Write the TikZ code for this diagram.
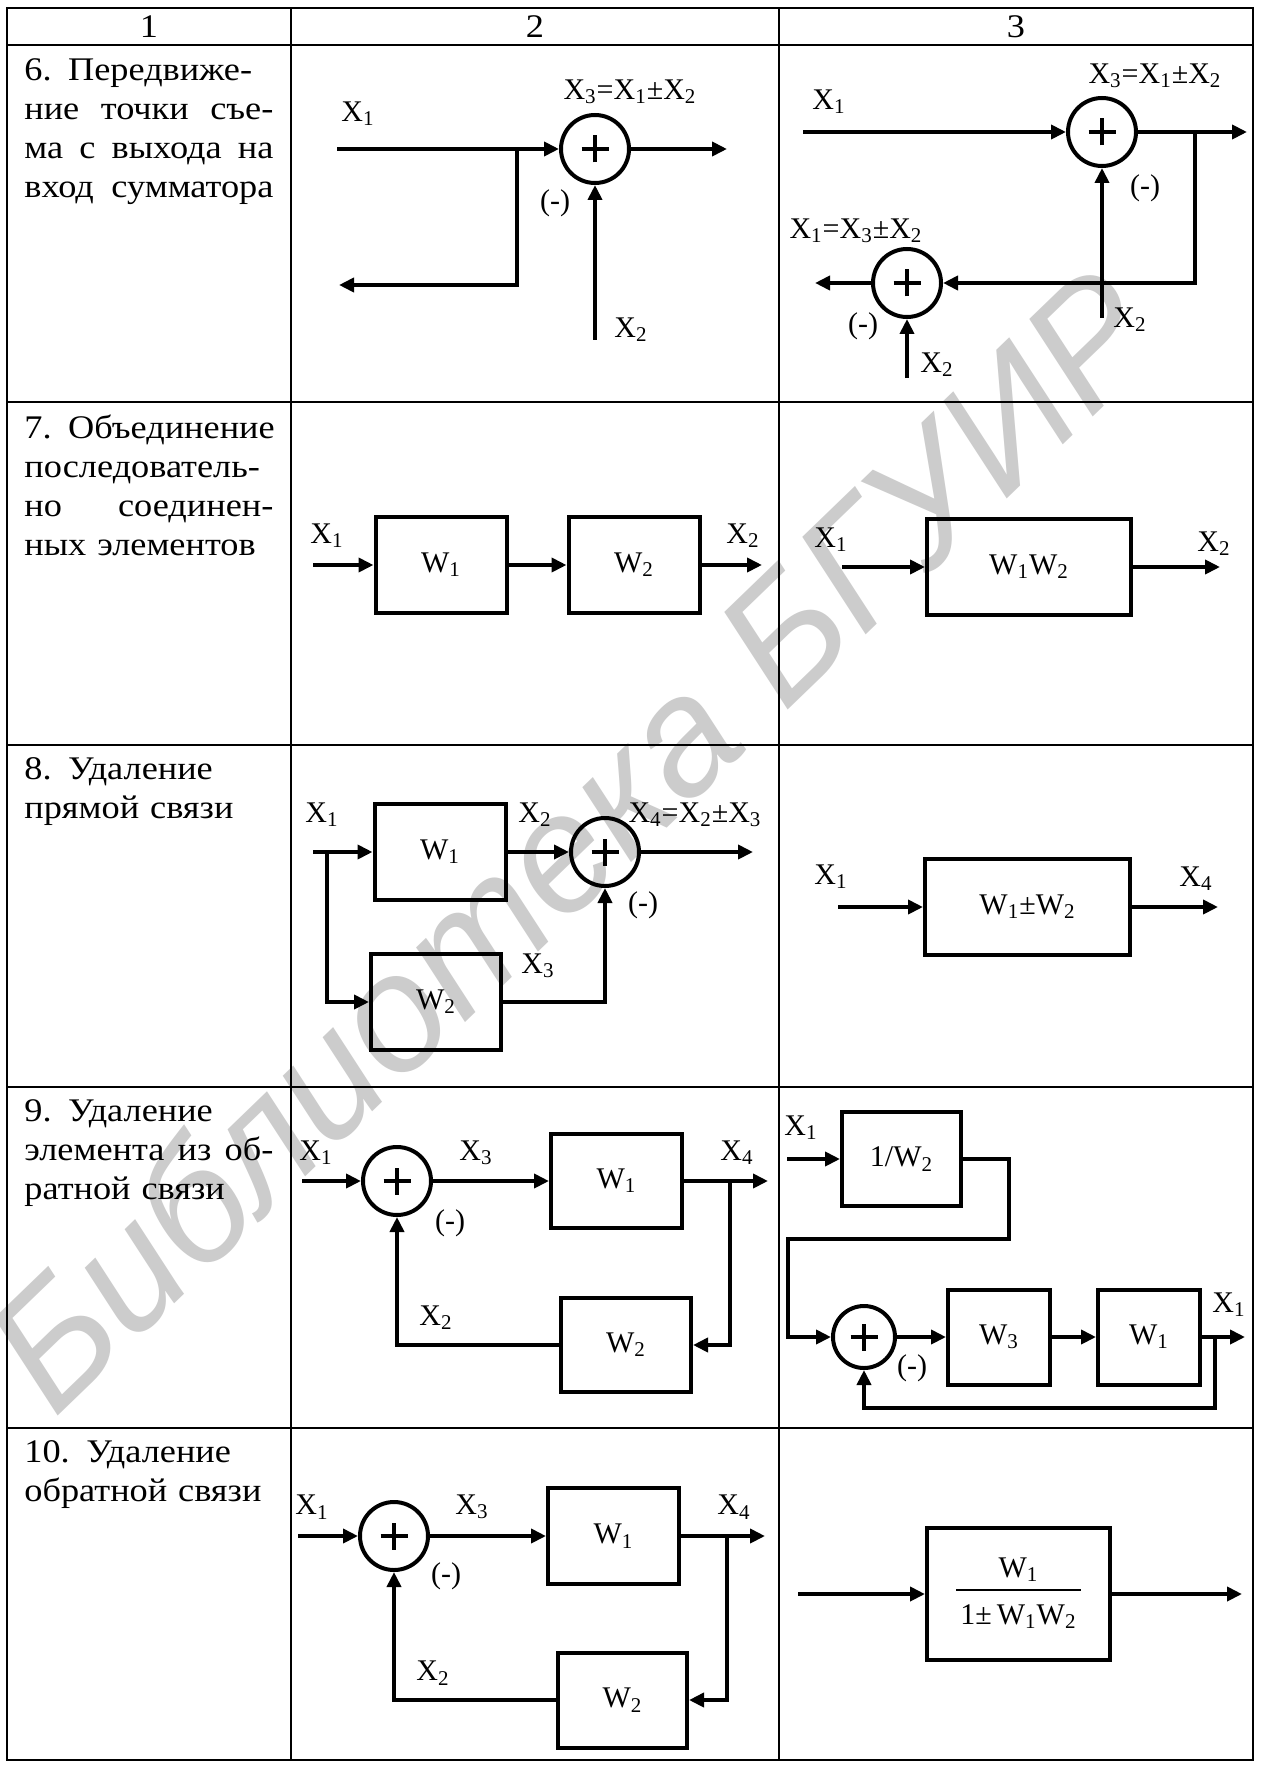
\documentclass[tikz,border=0pt]{standalone}
\usepackage{fontspec}
\setmainfont{Liberation Serif}
\newfontfamily\cellfont{Liberation Serif}[FakeStretch=1.1]
\newfontfamily\stampfont{Liberation Sans}
\usetikzlibrary{arrows.meta}

\newcommand{\xv}[1]{X\textsubscript{#1}}
\newcommand{\wv}[1]{W\textsubscript{#1}}
\newcommand{\labelsize}{\fontsize{15}{17}\selectfont}
\newcommand{\spreadline}[1]{\leavevmode\hbox to 124.5pt{\spaceskip=0.25em plus 1fill\relax #1}}

\begin{document}
\begin{tikzpicture}[
  x={(0.5pt,0pt)},
  y={(0pt,-0.5pt)},
  flow/.style={line width=2pt, -{Triangle[length=7.5pt,width=7pt]}},
  tableline/.style={line width=1.3pt},
  adder/.style={circle, draw, line width=2pt, minimum size=34pt, inner sep=0pt,
    path picture={
      \draw[line width=2pt]
      (path picture bounding box.center) +(-6.75pt,0pt) -- +(6.75pt,0pt)
      (path picture bounding box.center) +(0pt,-6.75pt) -- +(0pt,6.75pt);
    }},
  block/.style={draw, line width=2pt, inner sep=0pt, font=\labelsize},
  lbl/.style={inner sep=0pt, font=\labelsize},
  headcell/.style={inner sep=0pt, font=\cellfont\fontsize{16.5}{19.5}\selectfont},
  cell/.style={anchor=north west, inner sep=0pt, text width=126pt, align=left,
    font=\cellfont\fontsize{16.5}{19.5}\selectfont},
  stamp/.style={text=black!20, font=\stampfont\itshape\fontsize{83}{83}\selectfont,
    rotate=44}
]

\path[use as bounding box, fill=white] (0,0) rectangle (1262,1765);
\node[stamp] (stamp) at (570,838) {Библиотека БГУИР};

% table
\draw[tableline] (7,8) rectangle (1253,1760);
\foreach \y in {45,402,745,1087,1428}
  \draw[tableline] (7,\y) -- (1253,\y);
\foreach \x in {291,779}
  \draw[tableline] (\x,8) -- (\x,1760);
\foreach \n/\x in {1/149,2/535,3/1016}
  \node[headcell] (head \n) at (\x,27) {\n};

\node[cell] (text 6) at (24,58) {\spreadline{6. Передвиже-}\\
  \spreadline{ние точки съе-}\\ \spreadline{ма с выхода на}\\
  \spreadline{вход сумматора}};
\node[cell] (text 7) at (24,414) {\spreadline{7. Объединение}\\
  \spreadline{последователь-}\\ \spreadline{но соединен-}\\ ных элементов};
\node[cell] (text 8) at (24,757) {8. Удаление\\ прямой связи};
\node[cell] (text 9) at (24,1099) {9. Удаление\\
  \spreadline{элемента из об-}\\ ратной связи};
\node[cell] (text 10) at (24,1440) {10. Удаление\\ обратной связи};

% 6
\node[adder] (sum 6a) at (595,149) {};
\coordinate (in 6a) at (337,149);
\coordinate (tap 6a) at (517,149);
\coordinate (back 6a) at (339,285);
\coordinate (out 6a) at (727,149);
\coordinate (low 6a) at (595,340);
\draw[flow] (in 6a) -- (sum 6a);
\draw[flow] (sum 6a) -- (out 6a);
\draw[flow] (tap 6a) |- (back 6a);
\draw[flow] (low 6a) -- (sum 6a);
\node[lbl] (x1 6a) at (358,114) {\xv1};
\node[lbl] (x3 6a) at (630,92) {\xv3=\xv1±\xv2};
\node[lbl] (neg 6a) at (555,203) {(-)};
\node[lbl] (x2 6a) at (631,330) {\xv2};

\node[adder] (sum 6b) at (1102,132) {};
\node[adder] (ret 6b) at (907,283) {};
\coordinate (in 6b) at (803,132);
\coordinate (out 6b) at (1247,132);
\coordinate (tap 6b) at (1195,132);
\coordinate (end 6b) at (815,283);
\coordinate (low 6b) at (1102,318);
\coordinate (foot 6b) at (907,378);
\draw[flow] (in 6b) -- (sum 6b);
\draw[flow] (sum 6b) -- (out 6b);
\draw[flow] (tap 6b) |- (ret 6b);
\draw[flow] (ret 6b) -- (end 6b);
\draw[flow] (low 6b) -- (sum 6b);
\draw[flow] (foot 6b) -- (ret 6b);
\node[lbl] (x1 6b) at (829,102) {\xv1};
\node[lbl] (x3 6b) at (1155,76) {\xv3=\xv1±\xv2};
\node[lbl] (neg 6b) at (1145,188) {(-)};
\node[lbl] (x2 6b) at (1130,320) {\xv2};
\node[lbl] (x1 ret 6b) at (856,231) {\xv1=\xv3±\xv2};
\node[lbl] (neg ret 6b) at (863,326) {(-)};
\node[lbl] (x2 ret 6b) at (937,365) {\xv2};

% 7
\node[block, minimum width=65.5pt, minimum height=48pt] (w1 7a) at (441,565) {\wv1};
\node[block, minimum width=65.5pt, minimum height=48pt] (w2 7a) at (634,565) {\wv2};
\coordinate (in 7a) at (313,565);
\coordinate (out 7a) at (762,565);
\draw[flow] (in 7a) -- (w1 7a);
\draw[flow] (w1 7a) -- (w2 7a);
\draw[flow] (w2 7a) -- (out 7a);
\node[lbl] (x1 7a) at (327,536) {\xv1};
\node[lbl] (x2 7a) at (743,536) {\xv2};

\node[block, minimum width=102pt, minimum height=48pt] (w 7b) at (1029,567) {\wv1\wv2};
\coordinate (in 7b) at (842,567);
\coordinate (out 7b) at (1220,567);
\draw[flow] (in 7b) -- (w 7b);
\draw[flow] (w 7b) -- (out 7b);
\node[lbl] (x1 7b) at (831,540) {\xv1};
\node[lbl] (x2 7b) at (1214,544) {\xv2};

% 8
\node[block, minimum width=65.5pt, minimum height=48pt] (w1 8a) at (440,852) {\wv1};
\node[block, minimum width=65pt, minimum height=48pt] (w2 8a) at (436,1002) {\wv2};
\node[adder] (sum 8a) at (605,852) {};
\coordinate (in 8a) at (313,852);
\coordinate (tap 8a) at (327,852);
\coordinate (out 8a) at (753,852);
\draw[flow] (in 8a) -- (w1 8a);
\draw[flow] (tap 8a) |- (w2 8a);
\draw[flow] (w1 8a) -- (sum 8a);
\draw[flow] (w2 8a) -| (sum 8a);
\draw[flow] (sum 8a) -- (out 8a);
\node[lbl] (x1 8a) at (322,815) {\xv1};
\node[lbl] (x2 8a) at (535,815) {\xv2};
\node[lbl] (x3 8a) at (538,966) {\xv3};
\node[lbl] (neg 8a) at (643,905) {(-)};
\node[lbl] (x4 8a) at (695,815) {\xv4=\xv2±\xv3};

\node[block, minimum width=102.5pt, minimum height=48pt] (w 8b) at (1027.5,907) {\wv1±\wv2};
\coordinate (in 8b) at (838,907);
\coordinate (out 8b) at (1218,907);
\draw[flow] (in 8b) -- (w 8b);
\draw[flow] (w 8b) -- (out 8b);
\node[lbl] (x1 8b) at (831,877) {\xv1};
\node[lbl] (x4 8b) at (1196,879) {\xv4};

% 9
\node[adder] (sum 9a) at (397,1181) {};
\node[block, minimum width=65.5pt, minimum height=47pt] (w1 9a) at (616.5,1181) {\wv1};
\node[block, minimum width=65pt, minimum height=47pt] (w2 9a) at (626,1345) {\wv2};
\coordinate (in 9a) at (302,1181);
\coordinate (out 9a) at (768,1181);
\coordinate (tap 9a) at (730,1181);
\draw[flow] (in 9a) -- (sum 9a);
\draw[flow] (sum 9a) -- (w1 9a);
\draw[flow] (w1 9a) -- (out 9a);
\draw[flow] (tap 9a) |- (w2 9a);
\draw[flow] (w2 9a) -| (sum 9a);
\node[lbl] (x1 9a) at (316,1153) {\xv1};
\node[lbl] (x3 9a) at (476,1153) {\xv3};
\node[lbl] (x4 9a) at (737,1153) {\xv4};
\node[lbl] (x2 9a) at (436,1318) {\xv2};
\node[lbl] (neg 9a) at (450,1223) {(-)};

\node[block, minimum width=59.5pt, minimum height=47pt] (inv 9b) at (901.5,1159) {1/\wv2};
\node[adder, minimum size=31pt] (sum 9b) at (864,1337) {};
\node[block, minimum width=51pt, minimum height=47.5pt] (w3 9b) at (999,1337) {\wv3};
\node[block, minimum width=51pt, minimum height=47.5pt] (w1 9b) at (1149,1337) {\wv1};
\coordinate (in 9b) at (787,1159);
\coordinate (r 9b) at (1009,1239);
\coordinate (l 9b) at (788,1239);
\coordinate (out 9b) at (1245,1337);
\coordinate (tap 9b) at (1215,1337);
\coordinate (low 9b) at (1215,1408);
\draw[flow] (in 9b) -- (inv 9b);
\draw[flow] (inv 9b) -| (r 9b) -- (l 9b) |- (sum 9b);
\draw[flow] (sum 9b) -- (w3 9b);
\draw[flow] (w3 9b) -- (w1 9b);
\draw[flow] (w1 9b) -- (out 9b);
\draw[flow] (tap 9b) -- (low 9b) -| (sum 9b);
\node[lbl] (x1 9b) at (801,1128) {\xv1};
\node[lbl] (x1 out 9b) at (1229,1305) {\xv1};
\node[lbl] (neg 9b) at (912,1368) {(-)};

% 10
\node[adder] (sum 10a) at (394,1536) {};
\node[block, minimum width=65.5pt, minimum height=48pt] (w1 10a) at (613.5,1536) {\wv1};
\node[block, minimum width=64.5pt, minimum height=47.5pt] (w2 10a) at (622.5,1700) {\wv2};
\coordinate (in 10a) at (298,1536);
\coordinate (out 10a) at (765,1536);
\coordinate (tap 10a) at (727,1536);
\draw[flow] (in 10a) -- (sum 10a);
\draw[flow] (sum 10a) -- (w1 10a);
\draw[flow] (w1 10a) -- (out 10a);
\draw[flow] (tap 10a) |- (w2 10a);
\draw[flow] (w2 10a) -| (sum 10a);
\node[lbl] (x1 10a) at (312,1507) {\xv1};
\node[lbl] (x3 10a) at (472,1507) {\xv3};
\node[lbl] (x4 10a) at (734,1507) {\xv4};
\node[lbl] (x2 10a) at (433,1673) {\xv2};
\node[lbl] (neg 10a) at (446,1576) {(-)};

\node[block, minimum width=91.5pt, minimum height=66pt] (w 10b) at (1018.5,1594)
  {\setlength{\arrayrulewidth}{0.7pt}%
   \begin{tabular}{@{\hspace{2pt}}c@{\hspace{2pt}}}
   \wv1\\[1pt] \hline
   \rule{0pt}{17pt}1±\,\wv1\wv2
   \end{tabular}};
\coordinate (in 10b) at (798,1594);
\coordinate (out 10b) at (1242,1594);
\draw[flow] (in 10b) -- (w 10b);
\draw[flow] (w 10b) -- (out 10b);
\end{tikzpicture}
\end{document}
